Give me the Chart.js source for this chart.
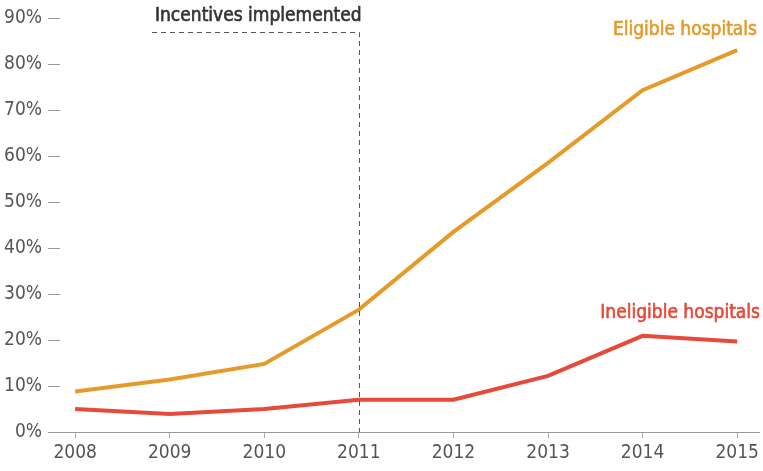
<!DOCTYPE html>
<html><head><meta charset="utf-8">
<script src="https://cdn.jsdelivr.net/npm/chart.js@4"></script>
<style>html,body{margin:0;padding:0;background:#fff}canvas{display:block}</style>
</head><body>
<canvas id="c" width="763" height="471"></canvas>
<script>
const years = [2008, 2009, 2010, 2011, 2012, 2013, 2014, 2015];
const eligible = [8.8, 11.4, 14.8, 26.6, 43.5, 58.5, 74.3, 83.0];
const ineligible = [5.0, 3.9, 5.0, 7.0, 7.0, 12.2, 20.9, 19.7];
const yTicks = [0, 10, 20, 30, 40, 50, 60, 70, 80, 90];
const incentiveYear = 2011;

const FONT = "'Liberation Sans Narrow', 'DejaVu Sans Condensed', sans-serif";
const ORANGE = '#E49B2A';
const RED = '#E64A38';

const annot = {
  id: 'annot',
  afterDatasetsDraw(chart) {
    const ctx = chart.ctx, x = chart.scales.x, y = chart.scales.y;
    ctx.save();
    const xv = x.getPixelForValue(incentiveYear);
    ctx.strokeStyle = '#555';
    ctx.lineWidth = 1;
    ctx.setLineDash([5, 4]);
    ctx.beginPath();
    ctx.moveTo(152, 32.5);
    ctx.lineTo(Math.round(xv) + 0.5, 32.5);
    ctx.lineTo(Math.round(xv) + 0.5, y.getPixelForValue(0));
    ctx.stroke();
    ctx.setLineDash([]);
    ctx.font = '19px ' + FONT;
    ctx.textBaseline = 'middle';
    ctx.lineWidth = 0.6;
    const txt = (s, px, py, c, align) => {
      ctx.textAlign = align; ctx.fillStyle = c; ctx.strokeStyle = c;
      ctx.fillText(s, px, py); ctx.strokeText(s, px, py);
    };
    txt('Incentives implemented', 155, 16, '#333', 'left');
    txt('Eligible hospitals', 757, 30, ORANGE, 'right');
    txt('Ineligible hospitals', 760, 313, RED, 'right');
    ctx.restore();
  }
};

new Chart(document.getElementById('c'), {
  type: 'line',
  data: {
    datasets: [
      { label: 'Eligible hospitals', data: years.map((yr, i) => ({x: yr, y: eligible[i]})),
        borderColor: ORANGE, borderWidth: 4, pointRadius: 0, tension: 0 },
      { label: 'Ineligible hospitals', data: years.map((yr, i) => ({x: yr, y: ineligible[i]})),
        borderColor: RED, borderWidth: 4, pointRadius: 0, tension: 0 }
    ]
  },
  options: {
    responsive: false,
    animation: false,
    layout: { padding: { top: 18, right: 3, left: 0, bottom: 0 } },
    plugins: { legend: { display: false }, tooltip: { enabled: false } },
    scales: {
      x: {
        type: 'linear',
        min: 2007.84, max: 2015.24,
        afterBuildTicks: s => { s.ticks = years.map(v => ({ value: v })); },
        afterFit: s => { s.height = 39; },
        ticks: { color: '#555', font: { family: FONT, size: 19 }, padding: 4, maxRotation: 0,
                 callback: v => String(v) },
        grid: { drawOnChartArea: false, drawTicks: true, tickLength: 6, color: '#aaa' },
        border: { display: true, color: '#999', width: 1 }
      },
      y: {
        min: 0, max: 90,
        afterBuildTicks: s => { s.ticks = yTicks.map(v => ({ value: v })); },
        afterFit: s => { s.width = 60; },
        ticks: { color: '#555', font: { family: FONT, size: 19 }, padding: 6,
                 callback: v => v + '%' },
        grid: { drawOnChartArea: false, drawTicks: true, tickLength: 12, color: '#999' },
        border: { display: false }
      }
    }
  },
  plugins: [annot]
});
</script>
</body></html>
